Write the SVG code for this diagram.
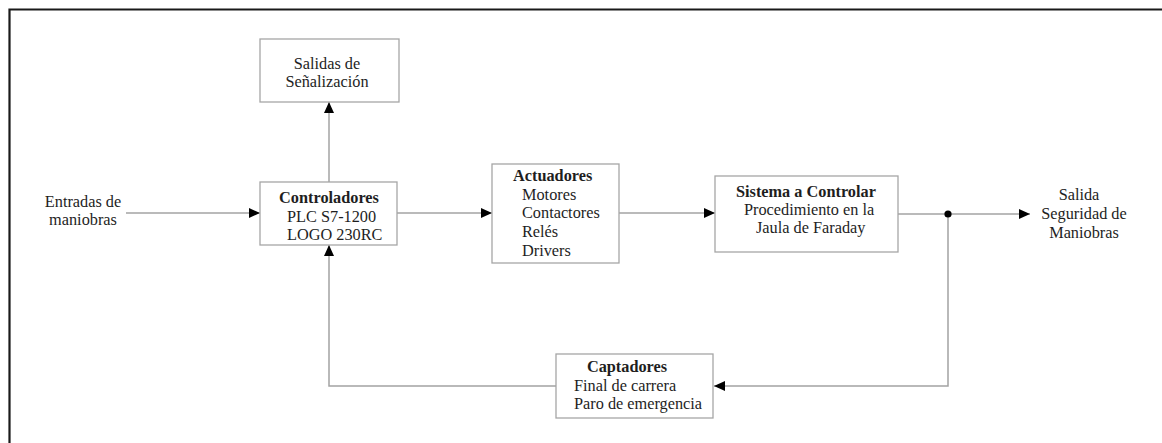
<svg xmlns="http://www.w3.org/2000/svg" width="1162" height="443" viewBox="0 0 1162 443">
  <style>
    .box { fill: #ffffff; stroke: #a6a6a6; stroke-width: 1.3; }
    .wire { fill: none; stroke: #a3a3a3; stroke-width: 1.5; }
    text { font-family: "Liberation Serif", "Times New Roman", serif; font-size: 16.3px; fill: #1e1e1e; }
    .b { font-weight: bold; }
    .c { text-anchor: middle; }
  </style>
  <defs>
    <marker id="arrow" viewBox="0 0 11 10" refX="11" refY="5" markerWidth="11" markerHeight="10" markerUnits="userSpaceOnUse" orient="auto">
      <path d="M0,0 L11,5 L0,10 Z" fill="#000000"/>
    </marker>
  </defs>

  <rect width="1162" height="443" fill="#ffffff"/>
  <!-- page frame -->
  <path d="M9.5,443 V9.5 H1162" fill="none" stroke="#1a1a1a" stroke-width="2.2"/>

  <!-- connectors -->
  <g id="connectors">
    <path class="wire" d="M126,213 H260" marker-end="url(#arrow)"/>
    <path class="wire" d="M329,182 V102" marker-end="url(#arrow)"/>
    <path class="wire" d="M397,213 H492" marker-end="url(#arrow)"/>
    <path class="wire" d="M619,213 H715" marker-end="url(#arrow)"/>
    <path class="wire" d="M898,214 H1030" marker-end="url(#arrow)"/>
    <path class="wire" d="M948,214 V386 H714" marker-end="url(#arrow)"/>
    <path class="wire" d="M556,386 H329 V245" marker-end="url(#arrow)"/>
    <circle cx="948" cy="214" r="3.6" fill="#000000"/>
  </g>

  <g id="entradas">
    <text class="c" x="83" y="207">Entradas de</text>
    <text class="c" x="83" y="225">maniobras</text>
  </g>

  <g id="salidas-senalizacion">
    <rect class="box" x="260" y="39" width="139" height="63"/>
    <text class="c" x="327" y="69">Salidas de</text>
    <text class="c" x="327" y="87">Señalización</text>
  </g>

  <g id="controladores">
    <rect class="box" x="260" y="182" width="137" height="63"/>
    <text class="b c" x="329" y="203">Controladores</text>
    <text x="287" y="222">PLC S7-1200</text>
    <text x="287" y="240">LOGO 230RC</text>
  </g>

  <g id="actuadores">
    <rect class="box" x="492" y="164" width="127" height="99"/>
    <text class="b" x="513" y="181">Actuadores</text>
    <text x="522" y="200">Motores</text>
    <text x="522" y="218">Contactores</text>
    <text x="522" y="237">Relés</text>
    <text x="522" y="256">Drivers</text>
  </g>

  <g id="sistema">
    <rect class="box" x="715" y="176" width="183" height="76"/>
    <text class="b" x="736" y="197">Sistema a Controlar</text>
    <text x="744" y="215">Procedimiento en la</text>
    <text x="756" y="233">Jaula de Faraday</text>
  </g>

  <g id="salida">
    <text class="c" x="1079" y="200">Salida</text>
    <text class="c" x="1084" y="219">Seguridad de</text>
    <text class="c" x="1084" y="238">Maniobras</text>
  </g>

  <g id="captadores">
    <rect class="box" x="556" y="354" width="157" height="64"/>
    <text class="b c" x="627" y="372">Captadores</text>
    <text x="574" y="391">Final de carrera</text>
    <text x="574" y="409">Paro de emergencia</text>
  </g>
</svg>
